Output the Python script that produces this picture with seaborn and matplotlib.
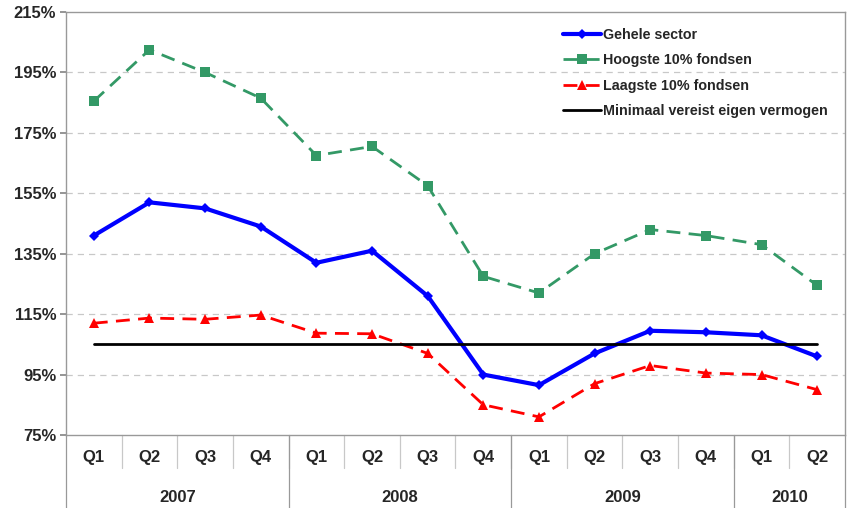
import matplotlib
matplotlib.use('Agg')
import matplotlib.pyplot as plt
import matplotlib.transforms as mtransforms
import pandas as pd
import seaborn as sns

quarters = ["Q1", "Q2", "Q3", "Q4", "Q1", "Q2", "Q3", "Q4",
            "Q1", "Q2", "Q3", "Q4", "Q1", "Q2"]
years = ["2007", "2008", "2009", "2010"]
year_counts = [4, 4, 4, 2]

gehele_sector = [141, 152, 150, 144, 132, 136, 121, 95, 91.5, 102, 109.5, 109, 108, 101]
hoogste_10 = [185.5, 202.5, 195, 186.5, 167.5, 170.5, 157.5, 127.5, 122, 135, 143, 141, 138, 124.5]
laagste_10 = [112, 113.7, 113.3, 114.7, 108.7, 108.5, 102, 85, 81, 92, 98, 95.5, 95, 90]
minimaal = [105] * 14

sns.set_theme(style="white")
plt.rcParams['font.family'] = ['Liberation Sans', 'DejaVu Sans']
plt.rcParams['font.weight'] = 'bold'

idx = list(range(len(quarters)))
df = pd.DataFrame({
    "idx": idx
    , "gehele": gehele_sector
    , "hoogste": hoogste_10
    , "laagste": laagste_10
    , "minimaal": minimaal
})

fig = plt.figure(figsize=(8.53, 5.08), dpi=100)
ax = fig.add_axes([66 / 853, 73 / 508, 779 / 853, 423 / 508])

sns.lineplot(data=df, x="idx", y="gehele", ax=ax, color="#0000FF", lw=3,
             marker="D", markersize=5, markeredgewidth=0, label="Gehele sector")
sns.lineplot(data=df, x="idx", y="hoogste", ax=ax, color="#339966", lw=2,
             marker="s", markersize=7, markeredgewidth=0, dashes=(5, 3),
             label="Hoogste 10% fondsen")
sns.lineplot(data=df, x="idx", y="laagste", ax=ax, color="#FF0000", lw=2,
             marker="^", markersize=7, markeredgewidth=0, dashes=(5, 3),
             label="Laagste 10% fondsen")
sns.lineplot(data=df, x="idx", y="minimaal", ax=ax, color="black", lw=2,
             label="Minimaal vereist eigen vermogen")

ax.set_xlim(-0.5, len(quarters) - 0.5)
ax.set_ylim(75, 215)
ax.set_yticks(range(75, 216, 20))
ax.set_yticklabels([f"{v}%" for v in range(75, 216, 20)], fontsize=12, fontweight='bold')
ax.set_xticks([])
ax.set_xlabel("")
ax.set_ylabel("")
ax.tick_params(axis='y', length=4, color='#888888', pad=3, left=True)

for v in range(95, 196, 20):
    ax.axhline(v, color='#C8C8C8', lw=0.9, ls=(0, (5, 4)), zorder=0)

for s in ax.spines.values():
    s.set_color('#999999')
    s.set_linewidth(1)

trans = mtransforms.blended_transform_factory(ax.transData, ax.transAxes)
for i, q in enumerate(quarters):
    ax.text(i, -0.054, q, transform=trans, ha='center', va='center',
            fontsize=12, fontweight='bold')
for i in range(len(quarters) - 1):
    ax.plot([i + 0.5, i + 0.5], [0, -0.078], transform=trans, color='#C8C8C8',
            lw=0.9, clip_on=False)

start = 0
bounds = [-0.5]
for y, n in zip(years, year_counts):
    ax.text(start + (n - 1) / 2, -0.148, y, transform=trans, ha='center',
            va='center', fontsize=12, fontweight='bold')
    start += n
    bounds.append(start - 0.5)
for b in bounds:
    ax.plot([b, b], [0, -0.18], transform=trans, color='#999999', lw=0.9,
            clip_on=False)

leg = ax.legend(loc='upper right', bbox_to_anchor=(0.995, 0.993), frameon=False,
                handlelength=2.6, handletextpad=0.2, labelspacing=0.8,
                prop={'weight': 'bold', 'size': 10.3})

fig.savefig("out.png", dpi=100)
